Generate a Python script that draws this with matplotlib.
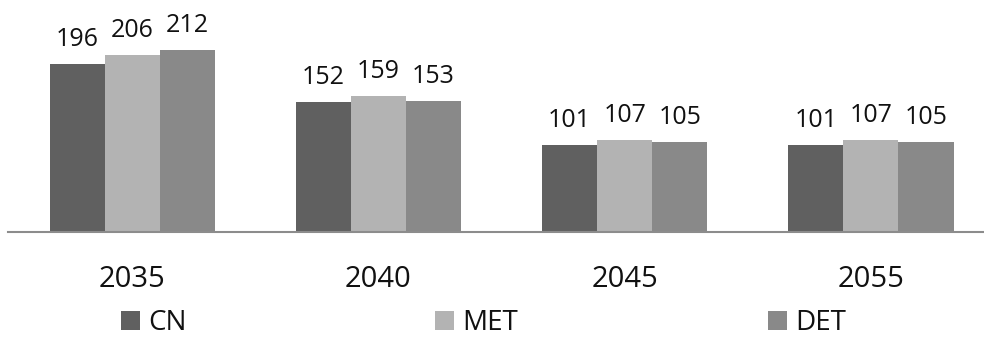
import matplotlib
matplotlib.use("Agg")
import numpy as np
import matplotlib.pyplot as plt
from matplotlib.patches import Patch

# ---------------------------------------------------------------------
# data
# ---------------------------------------------------------------------
years = ["2035", "2040", "2045", "2055"]
series = ["CN", "MET", "DET"]
cn = [196, 152, 101, 101]
met = [206, 159, 107, 107]
det = [212, 153, 105, 105]

colors = ["#606060", "#b3b3b3", "#898989"]
values = [cn, met, det]

plt.rcParams["font.family"] = ["Open Sans", "DejaVu Sans"]

W, H = 984, 338
fig = plt.figure(figsize=(W / 100, H / 100), dpi=100)
fig.patch.set_facecolor("white")

# axes: baseline at y=232px, runs from x=8px to the right edge
ax = fig.add_axes([8 / W, (H - 232) / H, 1 - 8 / W, 214.5 / H])

x = np.arange(len(years))
width = 0.2236
offsets = [-width, 0.0, width]

for vals, off, col, name in zip(values, offsets, colors, series):
    bars = ax.bar(x + off, vals, width=width, color=col, label=name,
                  linewidth=0, zorder=2)
    for rect, v in zip(bars, vals):
        ax.annotate(f"{v}", (rect.get_x() + rect.get_width() / 2, v),
                    xytext=(0, 13), textcoords="offset points",
                    ha="center", va="baseline", fontsize=18, color="#111111")

ax.set_xlim(-0.504, 3.459)
ax.set_ylim(0, 250)

for side in ["top", "right", "left"]:
    ax.spines[side].set_visible(False)
ax.spines["bottom"].set_color("#8c8c8c")
ax.spines["bottom"].set_linewidth(1.5)
ax.spines["bottom"].set_zorder(3)

ax.set_yticks([])
ax.set_xticks(x)
ax.set_xticklabels(years, fontsize=21, color="#111111")
ax.tick_params(axis="x", length=0, pad=24)

# legend entries spread across the bottom
legend_x = [121, 435, 768]
for name, col, lx in zip(series, colors, legend_x):
    leg = fig.legend(handles=[Patch(facecolor=col, edgecolor="none")],
                     labels=[name], loc="center left",
                     bbox_to_anchor=(lx / W, (H - 323) / H),
                     frameon=False, fontsize=20, borderpad=0,
                     borderaxespad=0, handlelength=0.68, handleheight=0.68,
                     handletextpad=0.29)
    for t in leg.get_texts():
        t.set_color("#111111")

fig.savefig("out.png", dpi=100)
